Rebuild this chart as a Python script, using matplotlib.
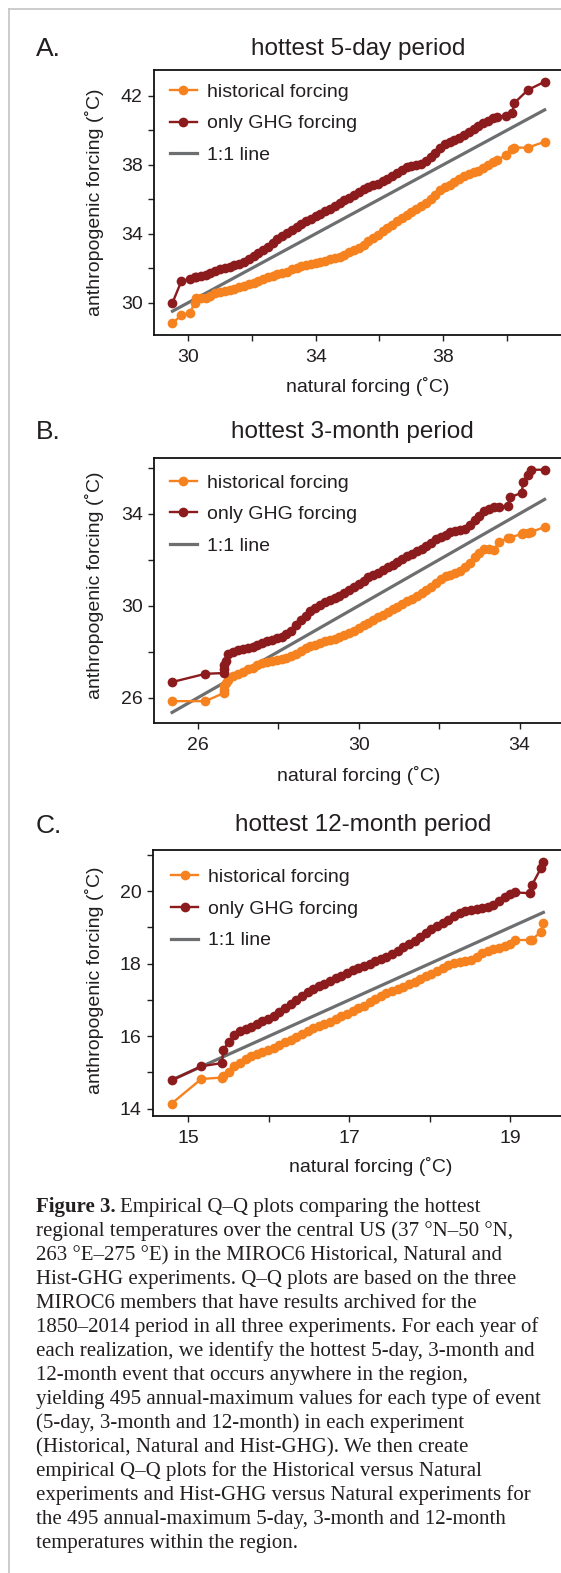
import matplotlib
matplotlib.use("Agg")
import matplotlib.pyplot as plt
from matplotlib.lines import Line2D

SANS = ['Liberation Sans', 'DejaVu Sans']
SERIF = ['Liberation Serif', 'DejaVu Serif']
plt.rcParams['font.family'] = SANS

W, H, DPI = 561, 1573, 100

# --- values (natural quantile vs anthropogenic quantile) ---
nat_5day = [29.51, 29.79, 30.05, 30.20, 30.25, 30.40, 30.56, 30.70, 30.84,
            31.00, 31.15, 31.30, 31.45, 31.60, 31.75, 31.90, 32.05, 32.20, 32.35,
            32.50, 32.65, 32.80, 32.95, 33.10, 33.25, 33.40, 33.55, 33.70, 33.85,
            34.00, 34.15, 34.30, 34.45, 34.60, 34.75, 34.90, 35.05, 35.20, 35.35,
            35.50, 35.65, 35.80, 35.95, 36.10, 36.25, 36.40, 36.55, 36.70, 36.85,
            37.00, 37.15, 37.30, 37.45, 37.60, 37.75, 37.90, 38.05, 38.20, 38.35,
            38.50, 38.65, 38.80, 38.95, 39.10, 39.25, 39.40, 39.55, 39.70, 39.98,
            40.17, 40.22, 40.65, 41.18]
hist_5day = [28.81, 29.29, 29.39, 29.96, 30.29, 30.27, 30.25, 30.40, 30.54, 30.61,
             30.67, 30.74, 30.82, 30.90, 30.98, 31.06, 31.17, 31.27, 31.38, 31.47,
             31.55, 31.64, 31.73, 31.81, 31.93, 32.03, 32.13, 32.21, 32.26, 32.31,
             32.36, 32.43, 32.51, 32.59, 32.67, 32.79, 32.92, 33.05, 33.19, 33.37,
             33.55, 33.73, 33.92, 34.13, 34.33, 34.53, 34.72, 34.91, 35.10, 35.28,
             35.46, 35.63, 35.81, 36.00, 36.27, 36.53, 36.69, 36.85, 37.01, 37.18,
             37.35, 37.47, 37.57, 37.66, 37.81, 37.97, 38.14, 38.29, 38.56, 38.90,
             38.99, 38.99, 39.33]
ghg_5day = [30.00, 31.26, 31.36, 31.47, 31.51, 31.55, 31.60, 31.73, 31.86, 31.93,
            32.00, 32.08, 32.16, 32.26, 32.39, 32.53, 32.71, 32.88, 33.06, 33.23,
            33.47, 33.70, 33.87, 34.04, 34.21, 34.39, 34.55, 34.73, 34.88, 35.01,
            35.14, 35.29, 35.45, 35.61, 35.77, 35.93, 36.09, 36.24, 36.41, 36.58,
            36.70, 36.80, 36.89, 37.04, 37.19, 37.35, 37.51, 37.67, 37.84, 37.93,
            38.00, 38.07, 38.23, 38.45, 38.68, 38.95, 39.18, 39.30, 39.43, 39.57,
            39.73, 39.89, 40.06, 40.23, 40.40, 40.56, 40.72, 40.77, 40.82, 41.01,
            41.56, 42.33, 42.81]

nat_3month = [25.36, 26.19, 26.64, 26.65, 26.66, 26.70,
              26.76, 26.88, 27.00, 27.12, 27.24, 27.36, 27.48, 27.60, 27.72, 27.84,
              27.96, 28.08, 28.20, 28.32, 28.44, 28.56, 28.68, 28.80, 28.92, 29.04,
              29.16, 29.28, 29.40, 29.52, 29.64, 29.76, 29.88, 30.00, 30.12, 30.24,
              30.36, 30.48, 30.60, 30.72, 30.84, 30.96, 31.08, 31.20, 31.32, 31.44,
              31.56, 31.68, 31.80, 31.92, 32.04, 32.16, 32.28, 32.40, 32.52, 32.64,
              32.76, 32.88, 33.00, 33.12, 33.24, 33.36,
              33.49, 33.71, 33.76, 34.05, 34.09, 34.20, 34.28, 34.62]
hist_3month = [25.85, 25.85, 26.20, 26.35, 26.53, 26.62,
               26.75, 26.93, 27.02, 27.10, 27.24, 27.30, 27.40, 27.51, 27.57, 27.61,
               27.65, 27.69, 27.74, 27.81, 27.90, 28.02, 28.15, 28.24, 28.31, 28.39,
               28.45, 28.51, 28.57, 28.63, 28.72, 28.82, 28.92, 29.02, 29.14, 29.26,
               29.37, 29.49, 29.61, 29.72, 29.84, 29.96, 30.07, 30.19, 30.31, 30.43,
               30.54, 30.66, 30.80, 30.97, 31.14, 31.27, 31.34, 31.42, 31.52, 31.69,
               31.86, 32.13, 32.30, 32.47, 32.47, 32.42,
               32.77, 32.93, 32.96, 33.12, 33.14, 33.17, 33.20, 33.42]
ghg_3month = [26.68, 27.04, 27.07, 27.25, 27.40, 27.60,
              27.88, 27.98, 28.06, 28.11, 28.15, 28.21, 28.29, 28.38, 28.45, 28.52,
              28.58, 28.66, 28.77, 28.91, 29.14, 29.38, 29.57, 29.77, 29.90, 30.02,
              30.14, 30.24, 30.34, 30.44, 30.56, 30.68, 30.80, 30.94, 31.09, 31.24,
              31.34, 31.43, 31.53, 31.66, 31.79, 31.91, 32.04, 32.17, 32.26, 32.36,
              32.46, 32.59, 32.74, 32.89, 32.99, 33.09, 33.19, 33.24, 33.29, 33.34,
              33.52, 33.72, 33.92, 34.10, 34.20, 34.29,
              34.30, 34.32, 34.72, 34.90, 35.37, 35.67, 35.91, 35.91]

nat_12month = [14.79, 15.16, 15.42, 15.43,
               15.50, 15.57, 15.64, 15.71, 15.78, 15.85, 15.92, 15.99, 16.06, 16.13,
               16.20, 16.27, 16.34, 16.41, 16.48, 16.55, 16.62, 16.69, 16.76, 16.83,
               16.90, 16.97, 17.04, 17.11, 17.18, 17.25, 17.32, 17.39, 17.46, 17.53,
               17.60, 17.67, 17.74, 17.81, 17.88, 17.95, 18.02, 18.09, 18.16, 18.23,
               18.30, 18.37, 18.44, 18.51, 18.58, 18.65, 18.72, 18.79, 18.86, 18.93,
               19.00, 19.06, 19.24, 19.27, 19.38, 19.41]
hist_12month = [14.14, 14.82, 14.86, 14.89,
                15.02, 15.18, 15.27, 15.37, 15.44, 15.51, 15.57, 15.63, 15.68, 15.76,
                15.83, 15.90, 15.99, 16.07, 16.15, 16.23, 16.29, 16.34, 16.40, 16.48,
                16.55, 16.62, 16.69, 16.77, 16.84, 16.93, 17.02, 17.11, 17.18, 17.24,
                17.29, 17.36, 17.43, 17.50, 17.58, 17.65, 17.72, 17.80, 17.88, 17.95,
                18.01, 18.03, 18.06, 18.09, 18.17, 18.30, 18.35, 18.39, 18.43, 18.48,
                18.55, 18.65, 18.65, 18.66, 18.88, 19.13]
ghg_12month = [14.78, 15.17, 15.26, 15.61,
               15.84, 16.02, 16.14, 16.19, 16.26, 16.34, 16.41, 16.48, 16.56, 16.66,
               16.77, 16.89, 17.00, 17.12, 17.21, 17.29, 17.37, 17.45, 17.53, 17.60,
               17.66, 17.73, 17.81, 17.87, 17.94, 18.00, 18.06, 18.13, 18.19, 18.26,
               18.35, 18.45, 18.54, 18.63, 18.74, 18.84, 18.94, 19.03, 19.12, 19.21,
               19.31, 19.40, 19.45, 19.48, 19.50, 19.52, 19.57, 19.62, 19.72, 19.83,
               19.92, 19.96, 19.94, 20.17, 20.63, 20.81]

titles = ['hottest 5-day period', 'hottest 3-month period', 'hottest 12-month period']
letters = ['A.', 'B.', 'C.']
series_labels = ['historical forcing', 'only GHG forcing', '1:1 line']
xtick_labels = [['30', '', '34', '', '38', ''], ['26', '', '30', '', '34'], ['15', '', '17', '', '19']]
ytick_labels = [['30', '', '34', '', '38', '', '42'], ['26', '', '30', '', '34', ''],
                ['14', '', '16', '', '18', '', '20', '']]

caption = [
    'regional temperatures over the central US (37 °N–50 °N,',
    '263 °E–275 °E) in the MIROC6 Historical, Natural and',
    'Hist-GHG experiments. Q–Q plots are based on the three',
    'MIROC6 members that have results archived for the',
    '1850–2014 period in all three experiments. For each year of',
    'each realization, we identify the hottest 5-day, 3-month and',
    '12-month event that occurs anywhere in the region,',
    'yielding 495 annual-maximum values for each type of event',
    '(5-day, 3-month and 12-month) in each experiment',
    '(Historical, Natural and Hist-GHG). We then create',
    'empirical Q–Q plots for the Historical versus Natural',
    'experiments and Hist-GHG versus Natural experiments for',
    'the 495 annual-maximum 5-day, 3-month and 12-month',
    'temperatures within the region.',
]

ORANGE = '#f5821f'
DARKRED = '#8b1b1d'
GRAY = '#6d6e70'
INK = '#231f20'

fig = plt.figure(figsize=(W / DPI, H / DPI), dpi=DPI)


def fx(px):
    return px / W


def fy(py):
    return 1 - py / H


def draw_panel(k, nat, hist, ghg, box, xlim, ylim, xticks, yticks, leg_anchor,
               title_xy, letter_y, ylabel_xy, xlabel_xy):
    left, top, right, bottom = box
    ax = fig.add_axes([fx(left), fy(bottom), (right - left) / W, (bottom - top) / H])
    ax.plot(nat, hist, '-o', color=ORANGE, lw=1.7, ms=7.0, mew=0, label=series_labels[0], zorder=3)
    ax.plot(nat, ghg, '-o', color=DARKRED, lw=1.7, ms=7.0, mew=0, label=series_labels[1], zorder=4)
    ax.plot([nat[0], nat[-1]], [nat[0], nat[-1]], color=GRAY, lw=2.3, label=series_labels[2], zorder=2)
    ax.set_xlim(*xlim)
    ax.set_ylim(*ylim)
    ax.set_xticks(xticks)
    ax.set_xticklabels(xtick_labels[k])
    ax.set_yticks(yticks)
    ax.set_yticklabels(ytick_labels[k])
    ax.tick_params(direction='out', length=4.2, width=1.0, labelsize=14, colors=INK)
    ax.tick_params(axis='x', pad=6)
    ax.tick_params(axis='y', pad=4)
    for s in ax.spines.values():
        s.set_linewidth(1.3)
        s.set_color('#111111')
    ax.legend(loc='upper left', bbox_to_anchor=leg_anchor, frameon=False, fontsize=14,
              handlelength=1.4, handletextpad=0.5, labelspacing=0.72, borderpad=0,
              borderaxespad=0, numpoints=1, labelcolor=INK)

    fig.text(fx(36), fy(letter_y), letters[k], fontsize=19, ha='left', va='center', color=INK)
    fig.text(fx(title_xy[0]), fy(title_xy[1]), titles[k], fontsize=17.5, ha='center', va='center', color=INK)
    fig.text(fx(ylabel_xy[0]), fy(ylabel_xy[1]), 'anthropogenic forcing (˚C)', fontsize=14,
             rotation=90, ha='center', va='center', color=INK)
    fig.text(fx(xlabel_xy[0]), fy(xlabel_xy[1]), 'natural forcing (˚C)', fontsize=14,
             ha='center', va='center', color=INK)
    return ax


draw_panel(0, nat_5day, hist_5day, ghg_5day, (154, 70, 582, 335), (28.93, 42.35), (28.13, 43.49),
           [30, 32, 34, 36, 38, 40], [30, 32, 34, 36, 38, 40, 42], (0.037, 0.95),
           (358, 49), 49, (95, 202), (368, 387))
draw_panel(1, nat_3month, hist_3month, ghg_3month, (154, 458, 582, 723), (24.91, 35.55), (24.9, 36.42),
           [26, 28, 30, 32, 34], [26, 28, 30, 32, 34, 36], (0.037, 0.94),
           (352, 432), 432, (95, 585), (359, 776))
draw_panel(2, nat_12month, hist_12month, ghg_12month, (153, 850, 582, 1116), (14.56, 19.89), (13.8, 21.13),
           [15, 16, 17, 18, 19], [14, 15, 16, 17, 18, 19, 20, 21], (0.042, 0.93),
           (363, 825), 826, (95, 980), (371, 1166))

# light page frame
fig.add_artist(Line2D([fx(9), fx(9)], [fy(9), 0], color='#c8c8c8', lw=1.3))
fig.add_artist(Line2D([fx(9), 1], [fy(9), fy(9)], color='#c8c8c8', lw=1.3))

# caption
renderer = fig.canvas.get_renderer()
base0, step = 1212, 24.0
head = fig.text(fx(36), fy(base0), 'Figure 3.', family=SERIF, fontsize=15, fontweight='bold',
                ha='left', va='baseline', color=INK)
hw = head.get_window_extent(renderer=renderer).width
fig.text(fx(36 + hw + 4), fy(base0), 'Empirical Q–Q plots comparing the hottest', family=SERIF,
         fontsize=15, ha='left', va='baseline', color=INK)
for i, line in enumerate(caption):
    fig.text(fx(36), fy(base0 + (i + 1) * step), line, family=SERIF, fontsize=15,
             ha='left', va='baseline', color=INK)

fig.savefig('out.png', dpi=DPI)
